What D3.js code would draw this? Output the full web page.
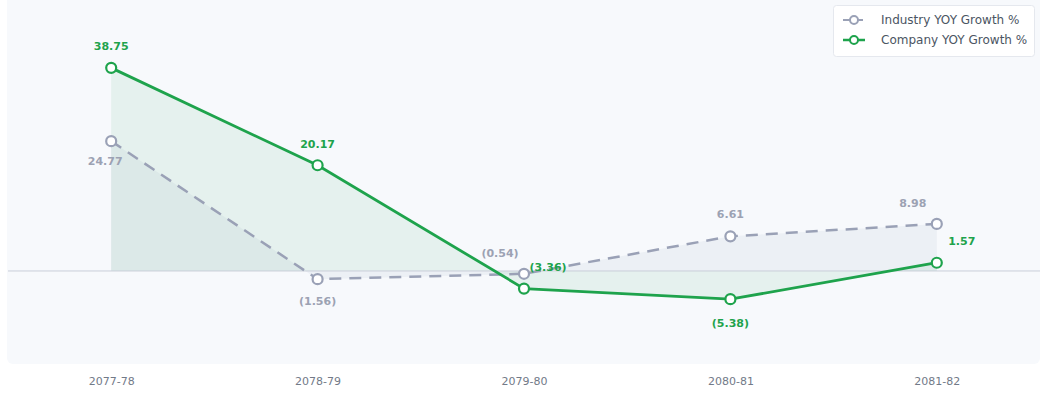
<!DOCTYPE html>
<html>
<head>
<meta charset="utf-8">
<script src="https://cdn.jsdelivr.net/npm/d3@7"></script>
<style>
  body { margin: 0; background: #fff; font-family: "DejaVu Sans", sans-serif; }
</style>
</head>
<body>
<div id="chart"></div>
<script>
// data
var years = ["2077-78", "2078-79", "2079-80", "2080-81", "2081-82"];
var industryGrowth = [24.77, -1.56, -0.54, 6.61, 8.98];
var companyGrowth = [38.75, 20.17, -3.36, -5.38, 1.57];
var seriesNames = ["Industry YOY Growth %", "Company YOY Growth %"];

var svgWidth = 1045;
var svgHeight = 394;

var green = "#1ea34c";
var grey = "#9aa1b6";

var svg = d3.select("#chart")
  .append("svg")
  .attr("width", svgWidth)
  .attr("height", svgHeight);

// plot background
svg.append("rect")
  .attr("x", 7).attr("y", -6)
  .attr("width", 1033).attr("height", 370)
  .attr("rx", 6)
  .attr("fill", "#f7f9fc");

var x = d3.scalePoint()
  .domain(years)
  .range([8, 1040])
  .padding(0.5);

var y = d3.scaleLinear()
  .domain([-17.75, 51.7])
  .range([364, 0]);

var industry = years.map((d, i) => ({ year: d, v: industryGrowth[i] }));
var company = years.map((d, i) => ({ year: d, v: companyGrowth[i] }));

var area = d3.area()
  .x(d => x(d.year))
  .y0(y(0))
  .y1(d => y(d.v));

var line = d3.line()
  .x(d => x(d.year))
  .y(d => y(d.v));

// fills
svg.append("path")
  .datum(company)
  .attr("d", area)
  .attr("fill", "rgba(30,150,80,0.08)");

svg.append("path")
  .datum(industry)
  .attr("d", area)
  .attr("fill", "rgba(120,135,165,0.08)");

// zero line
svg.append("line")
  .attr("x1", 8).attr("x2", 1040)
  .attr("y1", y(0)).attr("y2", y(0))
  .attr("stroke", "#c9cfd9")
  .attr("stroke-width", 1);

// lines
svg.append("path")
  .datum(industry)
  .attr("d", line)
  .attr("fill", "none")
  .attr("stroke", grey)
  .attr("stroke-width", 2.5)
  .attr("stroke-dasharray", "12,8");

svg.append("path")
  .datum(company)
  .attr("d", line)
  .attr("fill", "none")
  .attr("stroke", green)
  .attr("stroke-width", 2.8);

function addDots(data, color) {
  svg.append("g").selectAll("circle")
    .data(data)
    .enter()
    .append("circle")
    .attr("cx", d => x(d.year))
    .attr("cy", d => y(d.v))
    .attr("r", 5)
    .attr("fill", "#fff")
    .attr("stroke", color)
    .attr("stroke-width", 2.2);
}
addDots(industry, grey);
addDots(company, green);

function fmt(v) {
  return v < 0 ? "(" + Math.abs(v).toFixed(2) + ")" : v.toFixed(2);
}

// label offsets [dx, dy] from the point
var industryOffsets = [[-6, 20], [0, 22], [-24, -21], [0, -22], [-24, -21]];
var companyOffsets = [[0, -22], [0, -21], [24, -21], [0, 24], [25, -22]];

function addLabels(data, offsets, color) {
  svg.append("g").selectAll("text")
    .data(data)
    .enter()
    .append("text")
    .attr("x", (d, i) => x(d.year) + offsets[i][0])
    .attr("y", (d, i) => y(d.v) + offsets[i][1])
    .attr("dy", "0.35em")
    .attr("text-anchor", "middle")
    .attr("font-size", "11px")
    .attr("font-weight", "bold")
    .attr("fill", color)
    .text(d => fmt(d.v));
}
addLabels(industry, industryOffsets, "#9ca2b3");
addLabels(company, companyOffsets, green);

// x axis
var axis = svg.append("g")
  .attr("transform", "translate(0, 376)")
  .call(d3.axisBottom(x).tickSize(0).tickPadding(1));
axis.select(".domain").remove();
axis.selectAll("text")
  .attr("font-family", "DejaVu Sans, sans-serif")
  .attr("font-size", "11px")
  .attr("fill", "#727a88");

// legend
var legend = svg.append("g");
legend.append("rect")
  .attr("x", 833.5).attr("y", 5.5)
  .attr("width", 201).attr("height", 51)
  .attr("rx", 3)
  .attr("fill", "#fff")
  .attr("stroke", "#e5e8ee");

var legendColors = [grey, green];
seriesNames.forEach(function(name, i) {
  var ly = 20 + i * 20;
  legend.append("line")
    .attr("x1", 843).attr("x2", 865)
    .attr("y1", ly).attr("y2", ly)
    .attr("stroke", legendColors[i])
    .attr("stroke-width", i === 0 ? 2 : 2.5)
    .attr("stroke-dasharray", i === 0 ? "8,4" : null);
  legend.append("circle")
    .attr("cx", 854).attr("cy", ly)
    .attr("r", 4)
    .attr("fill", "#fff")
    .attr("stroke", legendColors[i])
    .attr("stroke-width", 2);
  legend.append("text")
    .attr("x", 881).attr("y", ly)
    .attr("dy", "0.35em")
    .attr("font-size", "12px")
    .attr("fill", "#4b5563")
    .text(name);
});
</script>
</body>
</html>
